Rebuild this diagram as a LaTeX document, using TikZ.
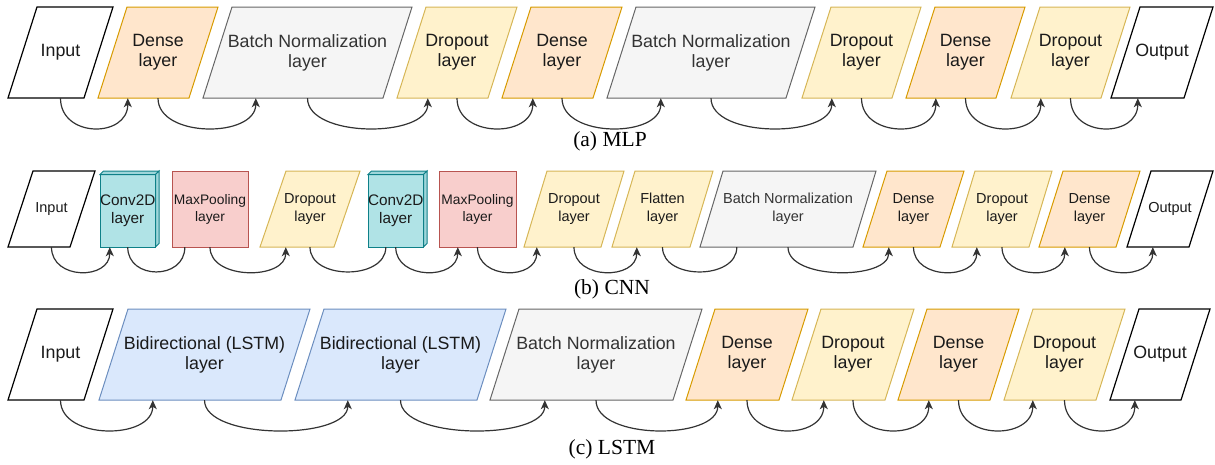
\documentclass[tikz,border=0pt]{standalone}
\usepackage{fontspec}
\setmainfont{Liberation Sans}
\newfontfamily\capfont{Liberation Serif}
\usetikzlibrary{arrows.meta}
\definecolor{denseF}{HTML}{FFE6CC}\definecolor{denseD}{HTML}{D79B00}
\definecolor{dropF}{HTML}{FFF2CC}\definecolor{dropD}{HTML}{D6B656}
\definecolor{bnF}{HTML}{F5F5F5}\definecolor{bnD}{HTML}{666666}\definecolor{bnT}{HTML}{333333}
\definecolor{convF}{HTML}{B0E3E6}\definecolor{convD}{HTML}{0E8088}\definecolor{convS}{HTML}{9ED6DA}
\definecolor{poolF}{HTML}{F8CECC}\definecolor{poolD}{HTML}{B85450}
\definecolor{lstmF}{HTML}{DAE8FC}\definecolor{lstmD}{HTML}{6C8EBF}
\definecolor{lineC}{HTML}{333333}
\definecolor{txtC}{HTML}{1A1A1A}
\tikzset{
  shp/.style={line width=1pt, line join=miter},
  ioshape/.style={shp, fill=white, draw=black, line width=1.2pt},
  denseshape/.style={shp, fill=denseF, draw=denseD},
  dropshape/.style={shp, fill=dropF, draw=dropD},
  bnshape/.style={shp, fill=bnF, draw=bnD},
  convshape/.style={shp, fill=convF, draw=convD},
  convside/.style={shp, fill=convS, draw=convD},
  poolshape/.style={shp, fill=poolF, draw=poolD},
  lstmshape/.style={shp, fill=lstmF, draw=lstmD},
  lbl/.style={inner sep=0pt, align=center, text=txtC},
  bigtxt/.style={font=\fontsize{17.8}{20}\selectfont},
  midtxt/.style={font=\fontsize{14.5}{18}\selectfont},
  convtxt/.style={font=\fontsize{15.3}{18}\selectfont},
  smalltxt/.style={font=\fontsize{13.8}{17}\selectfont},
  conn/.style={line width=1.2pt, draw=lineC},
  arr/.style={conn, -{Stealth[length=9pt,width=8pt,inset=2.5pt]}},
  captxt/.style={font=\capfont\fontsize{21.5}{24}\selectfont, inner sep=0pt}
}
% name, xl, xr, top, bottom, slant, shape style, text style, text
\newcommand{\parabox}[9]{%
  \path[#7] (#2,#5) -- ({#2+#6},#4) -- (#3,#4) -- ({#3-#6},#5) -- cycle;
  \node[lbl,#8,minimum width={(#3-#2)*1pt},minimum height={(#5-#4)*1pt}] (#1) at ({(#2+#3)/2},{(#4+#5)/2}) {#9};
}
% name, xl, xr, top, bottom, shape style, text style, text
\newcommand{\rectbox}[8]{%
  \path[#6] (#2,#4) rectangle (#3,#5);
  \node[lbl,#7,minimum width={(#3-#2)*1pt},minimum height={(#5-#4)*1pt}] (#1) at ({(#2+#3)/2},{(#4+#5)/2}) {#8};
}
% name, xl, xr, top, bottom, text style, text  (depth 3.5)
\newcommand{\cubebox}[7]{%
  \path[convshape] (#2,{#4+3.5}) rectangle ({#3-3.5},#5);
  \path[convside] (#2,{#4+3.5}) -- ({#2+3.5},#4) -- (#3,#4) -- ({#3-3.5},{#4+3.5}) -- cycle;
  \path[convside] ({#3-3.5},{#4+3.5}) -- (#3,#4) -- (#3,{#5-3.5}) -- ({#3-3.5},#5) -- cycle;
  \node[lbl,#6,minimum width={(#3-#2-3.5)*1pt},minimum height={(#5-#4-3.5)*1pt}] (#1) at ({(#2+#3-3.5)/2},{(#4+3.5+#5)/2}) {#7};
}
\begin{document}
\begin{tikzpicture}[x=1pt,y=-1pt]
\useasboundingbox (0,0) rectangle (1215,464);
% ---------------- (a) MLP ----------------
\parabox{in1}{8}{113}{7}{98}{29}{ioshape}{bigtxt}{Input}
\parabox{d1}{98}{218}{7}{98}{29}{denseshape}{bigtxt}{Dense\\layer}
\parabox{bn1}{203}{412}{7}{98}{29}{bnshape}{bigtxt,text=bnT}{Batch Normalization\\layer}
\parabox{dr1}{397}{517}{7}{98}{29}{dropshape}{bigtxt}{Dropout\\layer}
\parabox{d2}{502}{622}{7}{98}{29}{denseshape}{bigtxt}{Dense\\layer}
\parabox{bn2}{607}{815}{7}{98}{29}{bnshape}{bigtxt,text=bnT}{Batch Normalization\\layer}
\parabox{dr2}{802}{921}{7}{98}{29}{dropshape}{bigtxt}{Dropout\\layer}
\parabox{d3}{906}{1025}{7}{98}{29}{denseshape}{bigtxt}{Dense\\layer}
\parabox{dr3}{1011}{1130}{7}{98}{29}{dropshape}{bigtxt}{Dropout\\layer}
\parabox{out1}{1111}{1213}{7}{98}{29}{ioshape}{bigtxt}{Output}
\draw[arr] (in1.south) .. controls +(0,40) and +(0,40) .. ([xshift=30pt]d1.south west);
\draw[arr] (d1.south) .. controls +(0,40) and +(0,40) .. ([xshift=53pt]bn1.south west);
\draw[arr] (bn1.south) .. controls +(0,40) and +(0,40) .. ([xshift=31pt]dr1.south west);
\draw[arr] (dr1.south) .. controls +(0,40) and +(0,40) .. ([xshift=31pt]d2.south west);
\draw[arr] (d2.south) .. controls +(0,40) and +(0,40) .. ([xshift=54pt]bn2.south west);
\draw[arr] (bn2.south) .. controls +(0,40) and +(0,40) .. ([xshift=30pt]dr2.south west);
\draw[arr] (dr2.south) .. controls +(0,40) and +(0,40) .. ([xshift=30pt]d3.south west);
\draw[arr] (d3.south) .. controls +(0,40) and +(0,40) .. ([xshift=30pt]dr3.south west);
\draw[arr] (dr3.south) .. controls +(0,40) and +(0,40) .. ([xshift=27pt]out1.south west);
\node[captxt] (capA) at (610,141) {(a) MLP};
% ---------------- (b) CNN ----------------
\parabox{in2}{8}{95}{171}{247}{25}{ioshape}{midtxt}{Input}
\cubebox{cv1}{100}{159}{171}{247}{convtxt}{Conv2D\\layer}
\rectbox{mp1}{172}{248}{171}{247}{poolshape}{smalltxt}{MaxPooling\\layer}
\parabox{dr4}{260}{360}{171}{247}{26}{dropshape}{midtxt}{Dropout\\layer}
\cubebox{cv2}{368}{427}{171}{247}{convtxt}{Conv2D\\layer}
\rectbox{mp2}{439}{516}{171}{247}{poolshape}{smalltxt}{MaxPooling\\layer}
\parabox{dr5}{524}{624}{171}{247}{23}{dropshape}{midtxt}{Dropout\\layer}
\parabox{fl}{612}{713}{171}{247}{23}{dropshape}{midtxt}{Flatten\\layer}
\parabox{bn4}{700}{876}{171}{247}{23}{bnshape}{midtxt,text=bnT}{Batch Normalization\\layer}
\parabox{d4}{863}{964}{171}{247}{24}{denseshape}{midtxt}{Dense\\layer}
\parabox{dr6}{952}{1052}{171}{247}{23}{dropshape}{midtxt}{Dropout\\layer}
\parabox{d5}{1039}{1140}{171}{247}{24}{denseshape}{midtxt}{Dense\\layer}
\parabox{out2}{1127}{1213}{171}{247}{24}{ioshape}{midtxt}{Output}
\draw[arr] (in2.south) .. controls +(0,33) and +(0,33) .. ([xshift=10pt]cv1.south west);
\draw[conn] (cv1.south) .. controls +(0,33) and +(0,33) .. ([xshift=13pt]mp1.south west);
\draw[arr] (mp1.south) .. controls +(0,33) and +(0,33) .. ([xshift=26pt]dr4.south west);
\draw[conn] (dr4.south) .. controls +(0,33) and +(0,33) .. ([xshift=18pt]cv2.south west);
\draw[arr] (cv2.south) .. controls +(0,33) and +(0,33) .. ([xshift=19pt]mp2.south west);
\draw[arr] (mp2.south) .. controls +(0,33) and +(0,33) .. ([xshift=13pt]dr5.south west);
\draw[arr] (dr5.south) .. controls +(0,33) and +(0,33) .. ([xshift=25pt]fl.south west);
\draw[conn] (fl.south) .. controls +(0,33) and +(0,33) .. ([xshift=37pt]bn4.south west);
\draw[arr] (bn4.south) .. controls +(0,33) and +(0,33) .. ([xshift=26pt]d4.south west);
\draw[arr] (d4.south) .. controls +(0,33) and +(0,33) .. ([xshift=25pt]dr6.south west);
\draw[arr] (dr6.south) .. controls +(0,33) and +(0,33) .. ([xshift=26pt]d5.south west);
\draw[arr] (d5.south) .. controls +(0,33) and +(0,33) .. ([xshift=26pt]out2.south west);
\node[captxt] (capB) at (612,289) {(b) CNN};
% ---------------- (c) LSTM ----------------
\parabox{in3}{8}{113}{309}{400}{29}{ioshape}{bigtxt}{Input}
\parabox{ls1}{99}{310}{309}{400}{29}{lstmshape}{bigtxt}{Bidirectional (LSTM)\\layer}
\parabox{ls2}{295}{506}{309}{400}{29}{lstmshape}{bigtxt}{Bidirectional (LSTM)\\layer}
\parabox{bn5}{490}{702}{309}{400}{29}{bnshape}{bigtxt,text=bnT}{Batch Normalization\\layer}
\parabox{d6}{686}{808}{309}{400}{29}{denseshape}{bigtxt}{Dense\\layer}
\parabox{dr7}{792}{914}{309}{400}{29}{dropshape}{bigtxt}{Dropout\\layer}
\parabox{d7}{898}{1019}{309}{400}{29}{denseshape}{bigtxt}{Dense\\layer}
\parabox{dr8}{1004}{1125}{309}{400}{29}{dropshape}{bigtxt}{Dropout\\layer}
\parabox{out3}{1110}{1210}{309}{400}{29}{ioshape}{bigtxt}{Output}
\draw[arr] (in3.south) .. controls +(0,40) and +(0,40) .. ([xshift=54pt]ls1.south west);
\draw[arr] (ls1.south) .. controls +(0,40) and +(0,40) .. ([xshift=53pt]ls2.south west);
\draw[arr] (ls2.south) .. controls +(0,40) and +(0,40) .. ([xshift=55pt]bn5.south west);
\draw[arr] (bn5.south) .. controls +(0,40) and +(0,40) .. ([xshift=32pt]d6.south west);
\draw[arr] (d6.south) .. controls +(0,40) and +(0,40) .. ([xshift=32pt]dr7.south west);
\draw[arr] (dr7.south) .. controls +(0,40) and +(0,40) .. ([xshift=31pt]d7.south west);
\draw[arr] (d7.south) .. controls +(0,40) and +(0,40) .. ([xshift=29pt]dr8.south west);
\draw[arr] (dr8.south) .. controls +(0,40) and +(0,40) .. ([xshift=25pt]out3.south west);
\node[captxt] (capC) at (612,449) {(c) LSTM};
\end{tikzpicture}
\end{document}
